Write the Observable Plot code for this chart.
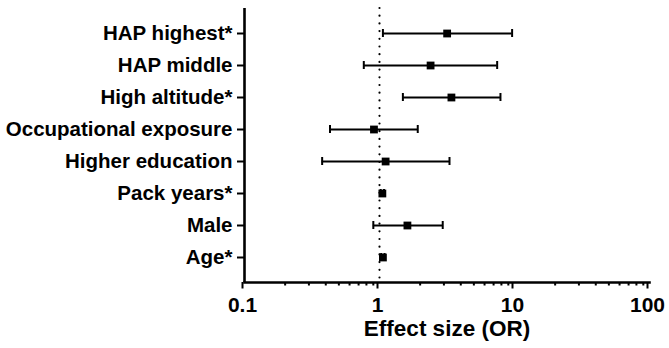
<!DOCTYPE html>
<html>
<head>
<meta charset="utf-8">
<script src="https://cdn.jsdelivr.net/npm/d3@7"></script>
<script src="https://cdn.jsdelivr.net/npm/@observablehq/plot@0.6"></script>
<style>
  html, body { margin: 0; padding: 0; background: #fff; }
  #chart svg { display: block; }
</style>
</head>
<body>
<div id="chart"></div>
<script>
const categories = ["HAP highest*", "HAP middle", "High altitude*", "Occupational exposure", "Higher education", "Pack years*", "Male", "Age*"];
const estimates = [3.17, 2.39, 3.41, 0.91, 1.11, 1.05, 1.61, 1.06];
const lower = [1.06, 0.765, 1.49, 0.43, 0.376, 1.02, 0.90, 1.03];
const upper = [9.6, 7.44, 7.87, 1.92, 3.30, 1.08, 2.94, 1.09];
const majorTicks = [0.1, 1, 10, 100];
const minorTicks = [0.2,0.3,0.4,0.5,0.6,0.7,0.8,0.9,2,3,4,5,6,7,8,9,20,30,40,50,60,70,80,90];
const tickLabels = ["0.1", "1", "10", "100"];
const xTitle = "Effect size (OR)";

const data = categories.map((name, i) => ({name, est: estimates[i], lo: lower[i], hi: upper[i]}));
const font = "'Liberation Sans', Arial, sans-serif";

const chart = Plot.plot({
  width: 669,
  height: 348,
  marginLeft: 244,
  marginRight: 20,
  marginTop: 8,
  marginBottom: 66,
  style: {fontFamily: font, background: "#fff", color: "#000"},
  x: {type: "log", domain: [0.1, 100], range: [244, 649]},
  y: {type: "band", domain: categories, paddingInner: 0, paddingOuter: 0.245},
  marks: [
    Plot.ruleX([1], {stroke: "#000", strokeWidth: 2.2, strokeDasharray: "0,7.7", strokeLinecap: "round"}),
    Plot.ruleY(data, {y: "name", x1: "lo", x2: "hi", stroke: "#000", strokeWidth: 2}),
    Plot.tickX(data, {x: "lo", y: "name", stroke: "#000", strokeWidth: 2, insetTop: 12, insetBottom: 12}),
    Plot.tickX(data, {x: "hi", y: "name", stroke: "#000", strokeWidth: 2, insetTop: 12, insetBottom: 12}),
    Plot.dot(data, {x: "est", y: "name", symbol: "square", r: 4.4, fill: "#000", stroke: "none"}),
    Plot.axisY({tickSize: 7, tickPadding: 5, fontSize: 20.5, fontWeight: "bold", strokeWidth: 2, label: null}),
    Plot.axisX(minorTicks, {tickSize: 3.5, strokeWidth: 2, text: null, label: null}),
    Plot.axisX(majorTicks, {tickSize: 6.5, strokeWidth: 2, tickFormat: (d) => tickLabels[majorTicks.indexOf(d)], fontSize: 21, fontWeight: "bold", tickPadding: 8, dx: -2, label: null}),
    Plot.ruleX([0.1], {stroke: "#000", strokeWidth: 2.6}),
    Plot.frame({anchor: "bottom", stroke: "#000", strokeWidth: 2.6}),
    Plot.text([xTitle], {frameAnchor: "bottom", x: Math.sqrt(10), dy: 53, fontSize: 22.5, fontWeight: "bold", fill: "#000"})
  ]
});
document.getElementById("chart").appendChild(chart);
</script>
</body>
</html>
